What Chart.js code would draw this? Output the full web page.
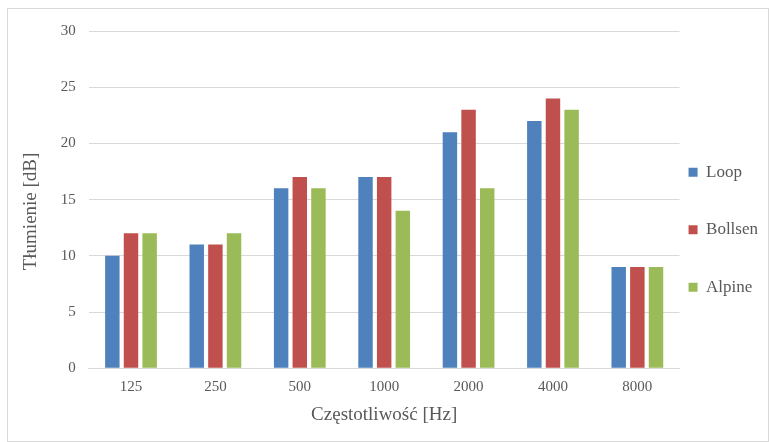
<!DOCTYPE html>
<html>
<head>
<meta charset="utf-8">
<script src="https://cdn.jsdelivr.net/npm/chart.js@4"></script>
<style>
  body { margin: 0; background: #fff; }
  #wrap {
    position: absolute;
    left: 7px;
    top: 8px;
    width: 760px;
    height: 432px;
    border: 1px solid #d9d9d9;
  }
</style>
</head>
<body>
<div id="wrap"><canvas id="chart"></canvas></div>
<script>
const categories = ["125", "250", "500", "1000", "2000", "4000", "8000"];
const loop = [10, 11, 16, 17, 21, 22, 9];
const bollsen = [12, 11, 17, 17, 23, 24, 9];
const alpine = [12, 12, 16, 14, 16, 23, 9];
const yTicks = [0, 5, 10, 15, 20, 25, 30];

const font = "'Liberation Serif', 'Times New Roman', serif";
const textColor = "#595959";

const ctx = document.getElementById("chart").getContext("2d");
new Chart(ctx, {
  type: "bar",
  data: {
    labels: categories,
    datasets: [
      { label: "Loop", data: loop, backgroundColor: "#4f81bd" },
      { label: "Bollsen", data: bollsen, backgroundColor: "#c0504d" },
      { label: "Alpine", data: alpine, backgroundColor: "#9bbb59" },
    ],
  },
  options: {
    responsive: true,
    maintainAspectRatio: false,
    animation: false,
    datasets: {
      bar: { categoryPercentage: 0.663, barPercentage: 0.775 },
    },
    layout: { padding: { top: 2, right: 0, bottom: 11, left: 8 } },
    plugins: {
      tooltip: { enabled: false },
      legend: {
        position: "right",
        // empty title only pushes the items down a bit
        title: {
          display: true,
          text: " ",
          padding: 0,
          font: { size: 10, lineHeight: "50px" },
        },
        labels: {
          font: { family: font, size: 17, lineHeight: 2.85 },
          color: textColor,
          boxWidth: 9,
          boxHeight: 9,
          padding: 9,
          // array text so the tall line height gives the row spacing
          generateLabels: (chart) =>
            Chart.defaults.plugins.legend.labels
              .generateLabels(chart)
              .map((l) => ({ ...l, text: [l.text] })),
        },
      },
    },
    scales: {
      x: {
        grid: { display: false },
        border: { color: "#d9d9d9" },
        ticks: { font: { family: font, size: 15 }, color: textColor, padding: 2 },
        title: {
          display: true,
          text: "Częstotliwość [Hz]",
          font: { family: font, size: 19 },
          color: textColor,
          padding: { top: 5, bottom: 4 },
        },
      },
      y: {
        min: 0,
        max: 30,
        afterBuildTicks: (axis) => {
          axis.ticks = yTicks.map((v) => ({ value: v }));
        },
        grid: { color: "#d9d9d9", drawTicks: false },
        border: { display: false },
        ticks: { font: { family: font, size: 15 }, color: textColor, padding: 13 },
        title: {
          display: true,
          // trailing spaces nudge the title a little lower, like the original
          text: "Tłumienie [dB]     ",
          font: { family: font, size: 19 },
          color: textColor,
          padding: { top: 4, bottom: 5 },
        },
      },
    },
  },
});
</script>
</body>
</html>
